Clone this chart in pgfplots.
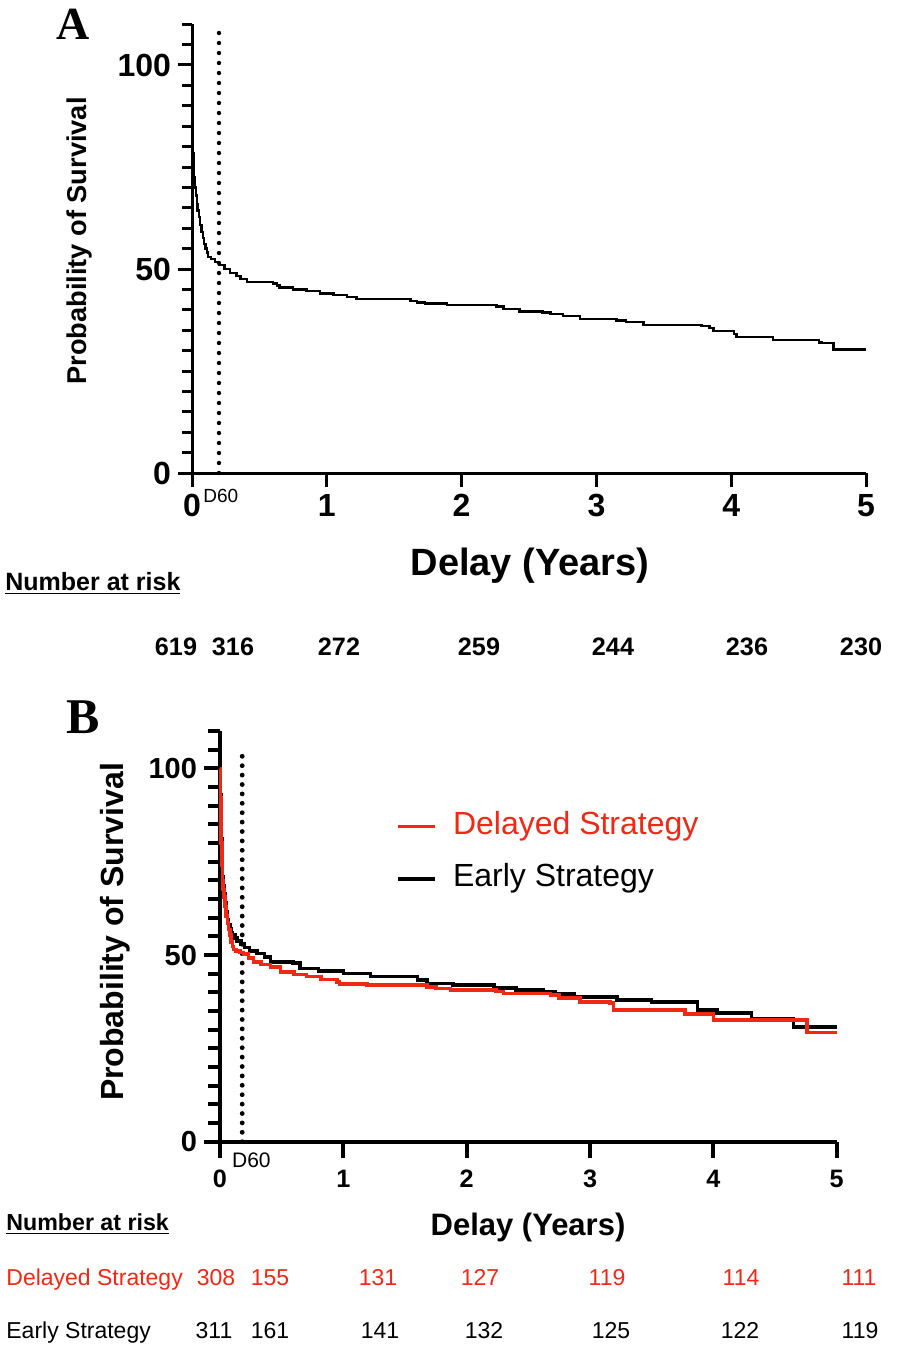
\documentclass[border=0pt]{standalone}
\usepackage{fontspec}
\setmainfont{Liberation Sans}
\newfontfamily\panelfont{Liberation Serif}
\usepackage{pgfplots}
\pgfplotsset{compat=1.18}
\definecolor{kmred}{RGB}{240,40,20}
\newcommand{\fs}[1]{\fontsize{#1}{#1}\selectfont}

\begin{document}
\begin{tikzpicture}
\useasboundingbox (0,0) rectangle (448pt,-674pt);

% ---------------- panel A ----------------
\begin{axis}[
	at={(96pt,-236.5pt)}, anchor=south west,
	scale only axis, width=337pt, height=224.4pt,
	xmin=0, xmax=5, ymin=0, ymax=110,
	axis lines=left, axis line style={-, line width=1.5pt},
	xtick={0,...,5}, ytick={0,50,100}, minor ytick={5,10,...,110},
	tick align=outside, major tick length=7pt, minor tick length=5pt,
	tick style={line width=1.5pt, black},
	tick label style={font=\bfseries\fs{16}},
	/pgf/number format/assume math mode=true,
	clip=false,
]
\addplot[line width=2.2pt, dash pattern=on 0pt off 5pt, line cap=round, forget plot]
coordinates {(0.2,0) (0.2,108)};
\addplot[const plot, line width=1.2pt, black]
coordinates {
(0,100) (0.002,92) (0.004,86) (0.006,82) (0.009,78.5) (0.013,75.5) (0.017,72.5)
(0.022,70) (0.028,68) (0.035,66) (0.042,64.3) (0.05,62.8) (0.06,60.8) (0.07,59)
(0.08,57.6) (0.09,56.2) (0.1,55) (0.11,54) (0.12,53) (0.14,52.4) (0.17,51.7)
(0.2,51) (0.24,50) (0.28,49) (0.33,48.3) (0.36,47.5) (0.41,46.8) (0.6,46.4)
(0.63,46) (0.65,45.5) (0.75,45) (0.85,44.6) (0.95,44) (1.05,43.6) (1.15,43.1)
(1.22,42.6) (1.62,42.2) (1.67,41.8) (1.73,41.5) (1.89,41.2) (2.26,40.8)
(2.31,40.2) (2.43,39.6) (2.6,39.3) (2.66,39) (2.75,38.5) (2.88,37.8) (3.15,37.4)
(3.22,37) (3.35,36.3) (3.78,36) (3.84,35.5) (3.87,34.8) (4.02,34) (4.04,33.3)
(4.31,32.6) (4.65,32) (4.67,31.8) (4.76,30.3) (5.0,30.3)
};
\node[anchor=base west, inner sep=0pt, font=\fs{9.5}] at (axis cs:0.082,-7.35) {D60};
\end{axis}

% ---------------- panel B ----------------
\begin{axis}[
	at={(110pt,-570.85pt)}, anchor=south west,
	scale only axis, width=308.35pt, height=205.35pt,
	xmin=0, xmax=5, ymin=0, ymax=110,
	axis lines=left, axis line style={-, line width=2pt},
	xtick={0,...,5}, ytick={0,50,100}, minor ytick={5,10,...,110},
	tick align=outside, major tick length=8pt, minor tick length=6pt,
	tick style={line width=2pt, black},
	yticklabel style={font=\bfseries\fs{14.5}},
	xticklabel style={font=\bfseries\fs{12.6}, yshift=-2.5pt},
	/pgf/number format/assume math mode=true,
	clip=false,
	reverse legend,
	legend cell align=left,
	legend image code/.code={\draw[#1] (0pt,0pt) -- (18.5pt,0pt);},
	legend style={at={(axis cs:1.427,89.4)}, anchor=north west, draw=none, fill=none,
		inner sep=0pt, font=\fs{16}, row sep=8.3pt,
		nodes={inner sep=1pt, text height=12pt, text depth=4pt},
		/tikz/every odd column/.append style={column sep=7pt}},
]
\addplot[line width=2.4pt, dash pattern=on 0pt off 4.7pt, line cap=round, forget plot]
coordinates {(0.18,0) (0.18,105)};
\addplot[const plot, line width=1.8pt, black]
coordinates {
(0,100) (0.003,93) (0.006,87) (0.01,81) (0.014,75) (0.02,71) (0.025,68.5)
(0.03,66.5) (0.04,64) (0.05,61.5) (0.06,59.5) (0.07,58) (0.08,57) (0.09,56)
(0.1,55.3) (0.12,54.5) (0.14,53.8) (0.17,53) (0.2,52) (0.24,51) (0.30,50.4)
(0.36,49.5) (0.41,48.2) (0.59,47.8) (0.65,46.4) (0.8,45.8) (1.0,45.1)
(1.22,44.2) (1.6,43.3) (1.68,42.4) (1.89,42) (2.22,41.1) (2.4,40.6) (2.62,40.2)
(2.72,39.5) (2.87,38.8) (3.22,37.9) (3.5,37.5) (3.87,35.3) (4.03,34.4)
(4.31,33) (4.65,30.8) (5.0,30.8)
};
\addlegendentry{Early Strategy}
\addplot[const plot, line width=1.8pt, kmred]
coordinates {
(0,100) (0.003,92) (0.006,86) (0.01,80) (0.014,74) (0.02,70) (0.025,67.5)
(0.03,65.5) (0.04,63) (0.05,60.5) (0.06,58.5) (0.07,56.8) (0.08,55.3)
(0.09,53.5) (0.1,52.3) (0.11,51.5) (0.13,51.1) (0.16,50.7) (0.19,50.2)
(0.23,49.2) (0.27,48.2) (0.33,47.5) (0.41,46.8) (0.49,45.5) (0.6,44.8)
(0.7,44.2) (0.82,43.5) (0.95,42.8) (0.97,42.2) (1.19,42) (1.68,41.5) (1.75,41)
(1.87,40.6) (2.24,40.2) (2.3,39.7) (2.68,39.3) (2.75,38.5) (2.92,37.5)
(3.16,37.1) (3.19,35.3) (3.77,34.2) (4.0,32.6) (4.76,29.2) (5.0,29.2)
};
\addlegendentry{\textcolor{kmred}{Delayed Strategy}}
\node[anchor=base west, inner sep=0pt, font=\fs{10.5}] at (axis cs:0.095,-6.8) {D60};
\end{axis}

% ---------------- texts around the axes ----------------
\node[anchor=base, inner sep=0pt, font=\panelfont\bfseries\fs{23}] at (36.5pt,-20pt) {A};
\node[anchor=base, inner sep=0pt, font=\panelfont\bfseries\fs{25}] at (41.5pt,-366.5pt) {B};

\node[anchor=base, rotate=90, inner sep=0pt, font=\bfseries\fs{13.6}] at (43pt,-120.5pt) {Probability of Survival};
\node[anchor=base, rotate=90, inner sep=0pt, font=\bfseries\fs{16}] at (61.5pt,-466pt) {Probability of Survival};

\node[anchor=base, inner sep=0pt, font=\bfseries\fs{19}] at (265pt,-287.5pt) {Delay (Years)};
\node[anchor=base, inner sep=0pt, font=\bfseries\fs{15.5}] at (264pt,-617.5pt) {Delay (Years)};

\node[anchor=base west, inner sep=0pt, font=\bfseries\fs{12.5}] at (2.5pt,-295pt) {\underline{Number at risk}};
\foreach \x/\n in {88/619,116.5/316,169.5/272,239.5/259,306.5/244,373.5/236,430.5/230}
	\node[anchor=base, inner sep=0pt, font=\bfseries\fs{12.6}] at (\x pt,-327.5pt) {\n};

\node[anchor=base west, inner sep=0pt, font=\bfseries\fs{11.6}] at (3pt,-615pt) {\underline{Number at risk}};
\node[anchor=base west, inner sep=0pt, font=\fs{11.5}, text=kmred] at (3pt,-642.5pt) {Delayed Strategy};
\foreach \x/\n in {108/308,135/155,189/131,240/127,303.5/119,370.5/114,429.5/111}
	\node[anchor=base, inner sep=0pt, font=\fs{11.5}, text=kmred] at (\x pt,-642.5pt) {\n};
\node[anchor=base west, inner sep=0pt, font=\fs{11.5}] at (3pt,-669pt) {Early Strategy};
\foreach \x/\n in {107/311,135/161,190/141,242/132,305.5/125,370/122,430/119}
	\node[anchor=base, inner sep=0pt, font=\fs{11.5}] at (\x pt,-669pt) {\n};
\end{tikzpicture}
\end{document}
